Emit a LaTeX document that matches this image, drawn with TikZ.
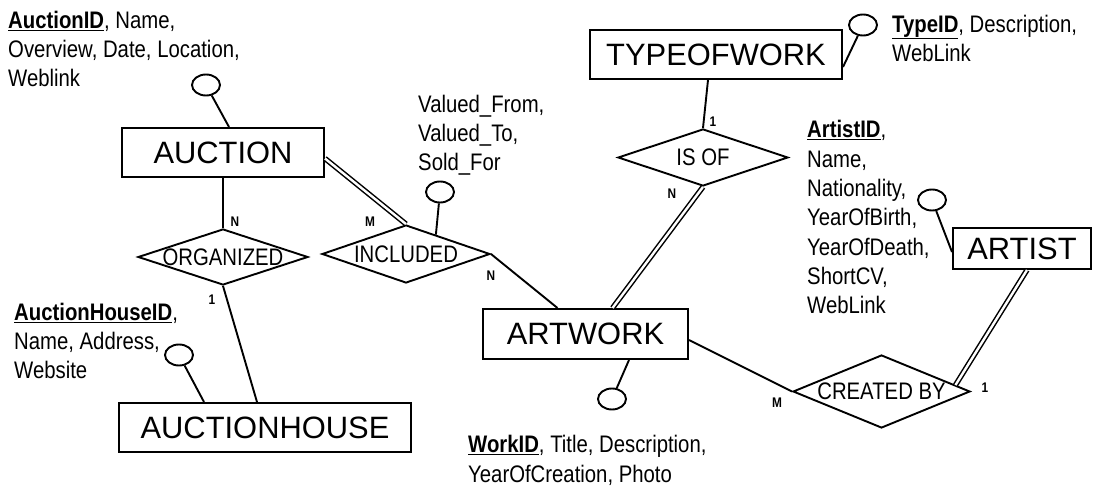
\documentclass[tikz,border=0pt]{standalone}
\usepackage{fontspec}
\setmainfont{Liberation Sans}
\newfontfamily\narrowfont[FakeStretch=0.85]{Liberation Sans}
\usepackage{tikz}
\usetikzlibrary{calc,shapes.geometric}

\begin{document}
\begin{tikzpicture}[x=1bp, y=-1bp,
    entity/.style={draw, line width=2bp, inner sep=0pt, font=\fontsize{31}{36}\selectfont},
    relation/.style={draw, diamond, line width=1.9bp, inner sep=0pt,
      label={[font=\narrowfont\fontsize{24}{28}\selectfont]center:#1}},
    attr/.style={draw, ellipse, line width=1.9bp, minimum width=28bp, minimum height=21bp, inner sep=0pt},
    attrtext/.style={anchor=base west, align=left, inner sep=0pt, font=\narrowfont\fontsize{24}{29.5}\selectfont},
    card/.style={font=\narrowfont\bfseries\fontsize{14}{16}\selectfont, inner sep=0pt},
    link/.style={line width=1.9bp},
    total/.style={line width=1.5bp, double, double distance=2.4bp}]
  \useasboundingbox (0,0) rectangle (1093,486);

  % entities
  \node[entity, minimum width=202bp, minimum height=49bp] (auction) at (223,152.5) {AUCTION};
  \node[entity, minimum width=292bp, minimum height=49bp] (house) at (265,427.5) {AUCTIONHOUSE};
  \node[entity, minimum width=252bp, minimum height=49bp] (type) at (716,54.5) {TYPEOFWORK};
  \node[entity, minimum width=205bp, minimum height=50bp] (artwork) at (585.5,334) {ARTWORK};
  \node[entity, minimum width=138bp, minimum height=41bp] (artist) at (1022,248.5) {ARTIST};

  % relationships
  \node[relation=ORGANIZED, minimum width=170bp, minimum height=56bp] (organized) at (223,257) {};
  \node[relation=INCLUDED, minimum width=168bp, minimum height=58bp] (included) at (406,254) {};
  \node[relation=IS OF, minimum width=170bp, minimum height=57bp] (isof) at (703,157.5) {};
  \node[relation=CREATED BY, minimum width=177bp, minimum height=73bp] (createdby) at (881.5,391.5) {};

  % attributes
  \node[attr] (auctionattr) at (206,85) {};
  \node[attr] (includedattr) at (440,192) {};
  \node[attr] (typeattr) at (863,25) {};
  \node[attr] (artistattr) at (932,200) {};
  \node[attr] (artworkattr) at (612,399) {};
  \node[attr] (houseattr) at (179,355) {};

  % attribute lists (placed at the baseline of their last line)
  \node[attrtext] (auctiontxt) at (8,87) {\underline{\textbf{AuctionID}}, Name,\\Overview, Date, Location,\\Weblink};
  \node[attrtext] (includedtxt) at (418,171) {Valued\_From,\\Valued\_To,\\Sold\_For};
  \node[attrtext] (housetxt) at (14,379) {\underline{\textbf{AuctionHouseID}},\\Name, Address,\\Website};
  \node[attrtext] (typetxt) at (892,61.5) {\underline{\textbf{TypeID}}, Description,\\WebLink};
  \node[attrtext] (artisttxt) at (807,314) {\underline{\textbf{ArtistID}},\\Name,\\Nationality,\\YearOfBirth,\\YearOfDeath,\\ShortCV,\\WebLink};
  \node[attrtext] (artworktxt) at (468,482) {\underline{\textbf{WorkID}}, Title, Description,\\YearOfCreation, Photo};

  % connectors
  \draw[link] (auctionattr) -- ($(auction.north)+(6,0)$);
  \draw[link] (auction) -- (organized);
  \draw[total] ($(auction.east)+(0,6)$) -- (included.north);
  \draw[link] (organized.south) -- ($(house.north)+(-8,0)$);
  \draw[link] (houseattr) -- ($(house.north)+(-61,0)$);
  \draw[link] (includedattr) -- (included.33);
  \draw[link] (included.east) -- ($(artwork.north)+(-28,0)$);
  \draw[link] ($(type.south)+(-8,0)$) -- (isof.north);
  \draw[link] (typeattr) -- ($(type.east)+(0,12.5)$);
  \draw[total] (isof.south) -- ($(artwork.north)+(27,0)$);
  \draw[link] (artworkattr) -- ($(artwork.south)+(43.5,0)$);
  \draw[link] ($(artwork.east)+(0,6)$) -- (createdby.west);
  \draw[total] ($(artist.south)+(5,0)$) -- (createdby.5);
  \draw[link] (artistattr) -- ($(artist.west)+(0,3.5)$);

  % cardinalities
  \foreach \txt/\x/\y [count=\i] in {N/235/222, M/370/222, 1/212/300, N/491/276, 1/713/122, N/672/194, M/777/403, 1/985/388} {
    \node[card] (card\i) at (\x,\y) {\txt};
  }
\end{tikzpicture}
\end{document}
